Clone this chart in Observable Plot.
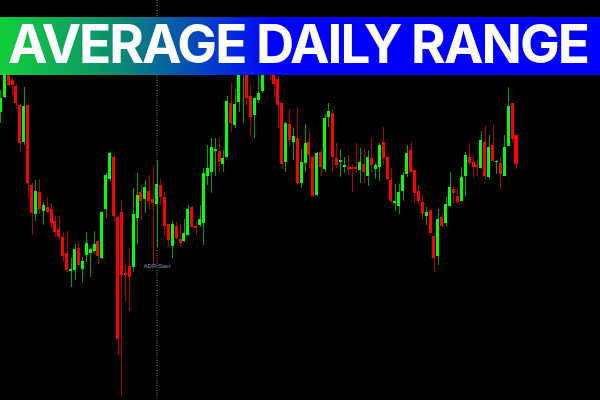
<!DOCTYPE html>
<html>
<head>
<meta charset="utf-8">
<script src="https://cdn.jsdelivr.net/npm/d3@7"></script>
<script src="https://cdn.jsdelivr.net/npm/@observablehq/plot@0.6"></script>
<style>
  html, body { margin: 0; padding: 0; background: #000; }
  #wrap { position: relative; width: 600px; height: 400px; overflow: hidden; background: #000; }
  #banner { position: absolute; left: 0; top: 0; width: 600px; height: 100px; pointer-events: none; }
  #chart svg { display: block; }
</style>
</head>
<body>
<div id="wrap">
  <div id="chart"></div>
  <svg id="banner" width="600" height="100" viewBox="0 0 600 100">
    <defs>
      <linearGradient id="bg" x1="0" x2="1" y1="0" y2="0">
        <stop offset="0" stop-color="#12cf3a"/>
        <stop offset="0.2" stop-color="#0a8a72"/>
        <stop offset="0.36" stop-color="#0038d0"/>
        <stop offset="0.46" stop-color="#0000ff"/>
        <stop offset="1" stop-color="#0000ff"/>
      </linearGradient>
    </defs>
    <rect x="0" y="17" width="600" height="58" fill="url(#bg)"/>
    <text id="title" x="8" y="63" fill="#fff" font-family="Inter, 'Open Sans', sans-serif" font-weight="700" font-size="53"></text>
  </svg>
</div>
<script>
const titleText = "AVERAGE DAILY RANGE";
const adrLabel = "ADR Start";
const adrStartIndex = 40;
const adrLabelPrice = 134;

// Candle OHLC values (price units), one entry per bar, left to right
const open = [288,303,326,320,314,295,258,295,215,186,208,189,193,191,179,171,163,147,129,130,
152,131,145,147,149,159,142,191,221,243,183,188,127,134,133,182,208,201,209,201,
196,215,203,176,154,174,161,159,165,193,174,175,177,224,228,249,249,236,243,297,
275,298,328,330,304,285,300,309,332,338,330,321,297,238,276,258,262,217,237,258,
243,205,248,231,283,287,242,238,233,233,233,233,230,236,224,242,231,233,258,243,
220,197,194,209,226,250,230,209,198,184,190,164,144,183,177,194,211,204,199,224,
243,238,235,232,258,223,255,238,237,224,254,297,265];
const high = [310,334,330,322,316,296,313,296,217,220,221,198,203,197,184,184,167,169,142,156,
159,143,168,152,169,159,189,227,248,245,184,200,135,152,212,227,215,220,225,235,
240,221,208,176,179,178,176,181,195,194,179,195,232,255,262,262,262,250,304,317,
311,338,342,334,316,303,330,342,350,342,334,324,298,278,291,272,293,251,276,269,
245,248,251,286,297,291,257,250,243,245,236,257,252,251,250,262,237,257,273,244,
232,216,216,228,255,258,230,215,205,193,190,165,191,187,203,228,213,213,233,248,
257,246,240,269,274,265,276,240,243,265,313,297,265];
const low = [277,302,314,305,291,248,255,202,165,179,186,175,187,172,163,161,138,128,113,120,
133,118,138,123,147,136,141,182,219,178,45,3,98,89,128,156,180,187,191,135,
153,195,164,153,142,161,153,158,164,172,165,173,155,215,207,224,228,228,242,268,
272,288,277,295,265,262,297,307,328,320,303,272,231,228,253,240,215,212,228,232,
203,204,224,228,273,228,232,223,227,225,208,227,217,217,214,227,221,219,235,220,
197,189,186,199,223,227,197,196,180,175,166,128,135,172,174,193,197,197,198,204,
235,222,224,231,221,221,238,226,211,224,254,257,231];
const close = [302,330,315,315,297,257,294,217,187,209,191,195,188,177,168,163,144,130,131,151,
135,139,157,151,156,144,188,225,247,184,61,125,125,123,186,205,199,213,199,197,
216,203,174,160,176,162,157,167,191,173,172,181,227,232,253,251,238,242,299,277,
296,330,338,302,283,302,307,335,345,328,316,295,236,277,260,264,217,238,257,245,
204,247,233,282,289,243,235,240,235,231,231,231,238,228,243,235,235,255,242,221,
199,199,208,225,247,228,207,199,186,188,167,142,181,174,196,213,207,198,223,245,
237,233,233,260,224,253,239,239,226,253,294,261,236];

const candles = open.map((o, i) => ({
  i, open: o, high: high[i], low: low[i], close: close[i], up: close[i] >= o
}));

// Title: fit to the banner width with real letter spacing
const titleEl = document.getElementById("title");
titleEl.textContent = titleText;
const natural = titleEl.getComputedTextLength();
const ls = (580 - natural) / titleText.length;
titleEl.setAttribute("letter-spacing", ls.toFixed(2));

const chart = Plot.plot({
  width: 600,
  height: 400,
  margin: 0,
  style: { background: "#000", overflow: "visible" },
  x: { domain: [0, 132], range: [0.3, 516], axis: null },
  y: { domain: [0, 400], range: [400, 0], axis: null },
  marks: [
    Plot.ruleX([adrStartIndex], { stroke: "#8c8c8c", strokeDasharray: "1,1.5", strokeWidth: 1 }),
    Plot.ruleX(candles, {
      x: "i", y1: "low", y2: "high",
      stroke: d => d.up ? "#00a000" : "#b00000",
      strokeWidth: 1, shapeRendering: "crispEdges"
    }),
    Plot.rect(candles, {
      x1: d => d.i - 0.385, x2: d => d.i + 0.385,
      y1: "open", y2: "close",
      fill: d => d.up ? "#00ff00" : "#ff0000",
      shapeRendering: "crispEdges"
    }),
    Plot.text([adrLabel], {
      x: () => adrStartIndex, y: () => adrLabelPrice, text: d => d,
      fill: "#7d9db5", fontSize: 6, fontFamily: "Liberation Sans, Arial, sans-serif",
      textAnchor: "middle"
    })
  ]
});
document.getElementById("chart").appendChild(chart);
</script>
</body>
</html>
